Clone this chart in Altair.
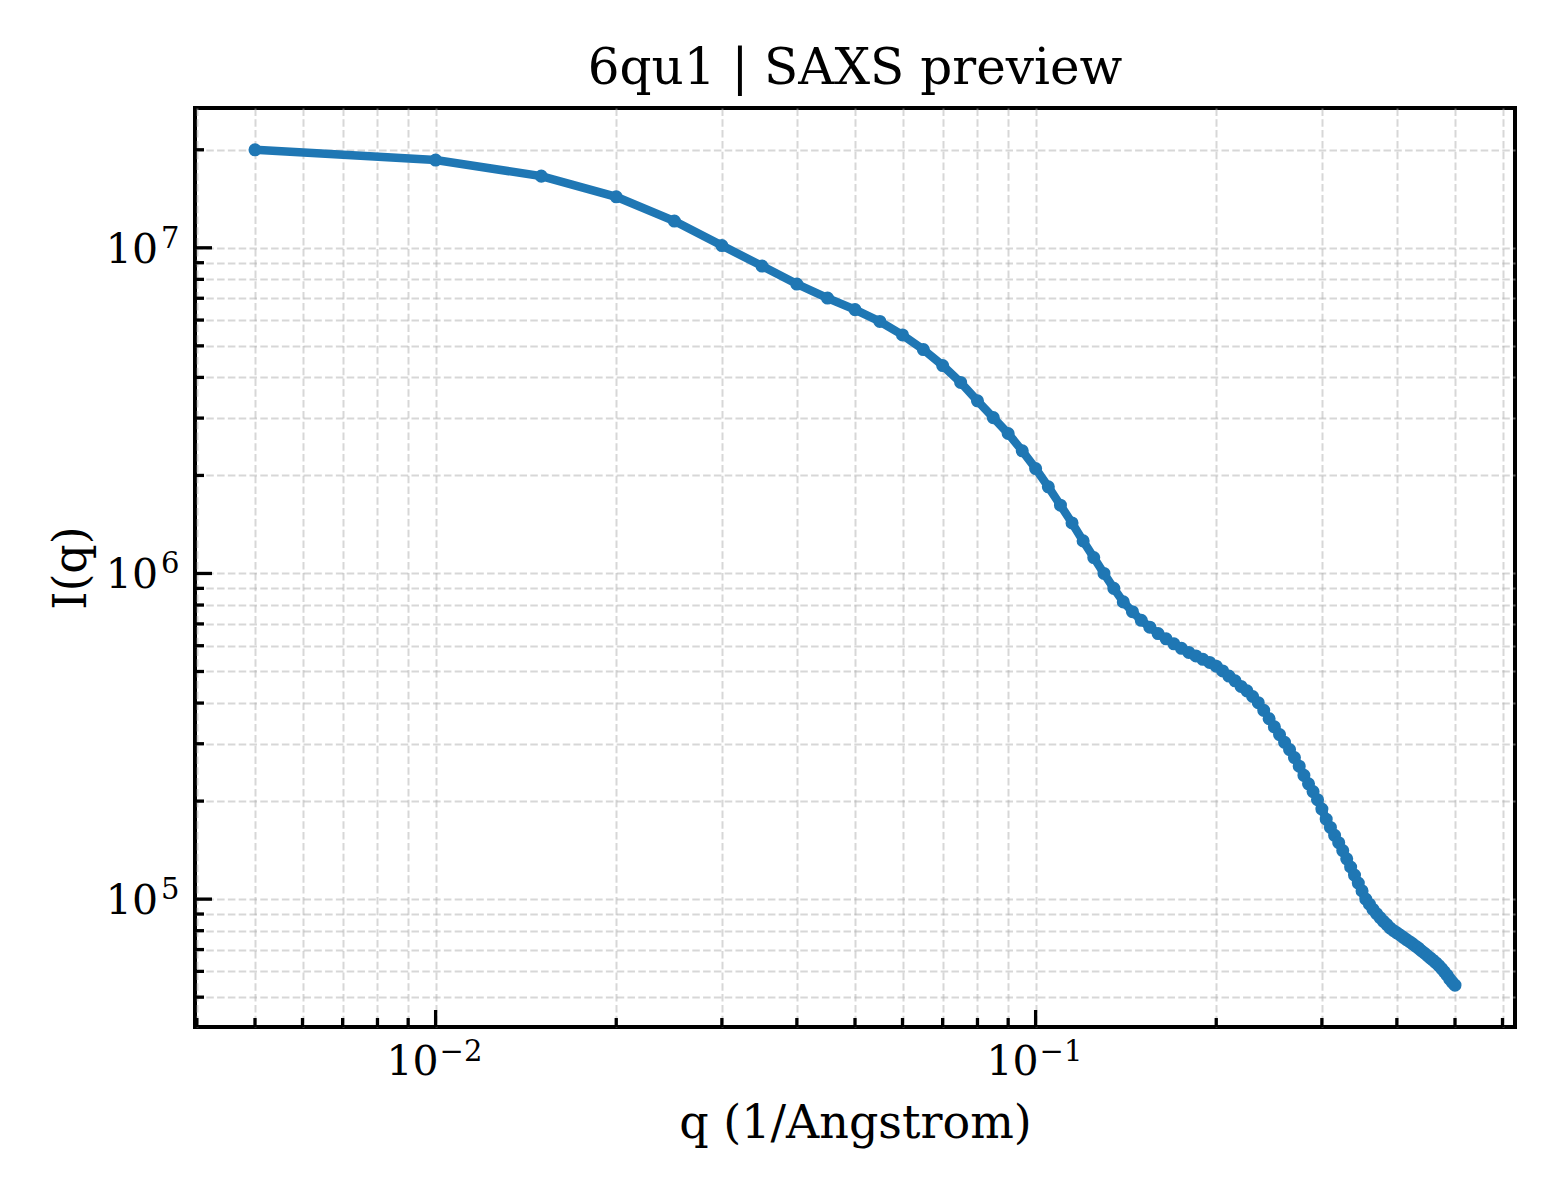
import altair as alt
import pandas as pd
import numpy as np

# ---- data ----
q = [0.005, 0.010, 0.015, 0.020, 0.025, 0.030, 0.035, 0.040, 0.045, 0.050,
     0.055, 0.060, 0.065, 0.070, 0.075, 0.080, 0.085, 0.090, 0.095, 0.100,
     0.105, 0.110, 0.115, 0.120, 0.125, 0.130, 0.135, 0.140, 0.145, 0.150,
     0.155, 0.160, 0.165, 0.170, 0.175, 0.180, 0.185, 0.190, 0.195, 0.200,
     0.205, 0.210, 0.215, 0.220, 0.225, 0.230, 0.235, 0.240, 0.245, 0.250,
     0.255, 0.260, 0.265, 0.270, 0.275, 0.280, 0.285, 0.290, 0.295, 0.300,
     0.305, 0.310, 0.315, 0.320, 0.325, 0.330, 0.335, 0.340, 0.345, 0.350,
     0.355, 0.360, 0.365, 0.370, 0.375, 0.380, 0.385, 0.390, 0.395, 0.400,
     0.405, 0.410, 0.415, 0.420, 0.425, 0.430, 0.435, 0.440, 0.445, 0.450,
     0.455, 0.460, 0.465, 0.470, 0.475, 0.480, 0.485, 0.490, 0.495, 0.500]

intensity = [2.00e7, 1.86e7, 1.66e7, 1.434e7, 1.208e7, 1.016e7, 8.79e6, 7.74e6, 7.01e6, 6.46e6,
             5.94e6, 5.40e6, 4.87e6, 4.35e6, 3.86e6, 3.39e6, 3.01e6, 2.69e6, 2.38e6, 2.10e6,
             1.845e6, 1.62e6, 1.429e6, 1.259e6, 1.119e6, 1.00e6, 9.0e5, 8.18e5, 7.63e5, 7.18e5,
             6.84e5, 6.54e5, 6.30e5, 6.08e5, 5.89e5, 5.72e5, 5.58e5, 5.45e5, 5.33e5, 5.19e5,
             5.02e5, 4.84e5, 4.68e5, 4.50e5, 4.36e5, 4.19e5, 4.01e5, 3.80e5, 3.58e5, 3.38e5,
             3.20e5, 3.03e5, 2.88e5, 2.72e5, 2.56e5, 2.40e5, 2.26e5, 2.14e5, 2.02e5, 1.89e5,
             1.76e5, 1.66e5, 1.57e5, 1.49e5, 1.41e5, 1.33e5, 1.255e5, 1.185e5, 1.12e5, 1.06e5,
             1.00e5, 9.65e4, 9.30e4, 9.02e4, 8.78e4, 8.55e4, 8.35e4, 8.15e4, 8.00e4, 7.88e4,
             7.76e4, 7.63e4, 7.51e4, 7.40e4, 7.29e4, 7.17e4, 7.06e4, 6.93e4, 6.82e4, 6.70e4,
             6.59e4, 6.48e4, 6.37e4, 6.25e4, 6.12e4, 5.98e4, 5.84e4, 5.68e4, 5.55e4, 5.44e4]

chart_title = "6qu1 | SAXS preview"
x_title = "q (1/Angstrom)"
y_title = "I(q)"

# tick labels: base "10" and exponent
x_major = [0.01, 0.1]
x_major_exp = ["\u22122", "\u22121"]
x_minor = [0.004, 0.005, 0.006, 0.007, 0.008, 0.009,
           0.02, 0.03, 0.04, 0.05, 0.06, 0.07, 0.08, 0.09,
           0.2, 0.3, 0.4, 0.5, 0.6]

y_major = [1e5, 1e6, 1e7]
y_major_exp = ["5", "6", "7"]
y_minor = [5e4, 6e4, 7e4, 8e4, 9e4,
           2e5, 3e5, 4e5, 5e5, 6e5, 7e5, 8e5, 9e5,
           2e6, 3e6, 4e6, 5e6, 6e6, 7e6, 8e6, 9e6,
           2e7]

# ---- layout / style ----
W, H = 1320, 919
FONT = "DejaVu Serif"
BLUE = "#1f77b4"
MAJOR_LEN, MINOR_LEN = 17, 9
BASE_FS, EXP_FS = 41, 29

df = pd.DataFrame({"q": q, "I": intensity})

def log_domain(vals, frac=0.05):
    lv = np.log10(np.asarray(vals, dtype=float))
    m = frac * (lv.max() - lv.min())
    return [float(10 ** (lv.min() - m)), float(10 ** (lv.max() + m))]

xs = alt.Scale(type="log", domain=log_domain(q), nice=False, zero=False)
ys = alt.Scale(type="log", domain=log_domain(intensity), nice=False, zero=False)

grid_common = dict(
    grid=True, gridColor="#b0b0b0", gridOpacity=0.5, gridWidth=2,
    gridDash=[7.5, 3.3], ticks=False, tickSize=0, domain=False, labels=False,
    titleFont=FONT, titleFontSize=46, titleFontWeight="normal", titleColor="black",
)

x_axis = alt.Axis(values=sorted(x_major + x_minor), title=x_title, titlePadding=74, **grid_common)
y_axis = alt.Axis(values=sorted(y_major + y_minor), title=y_title, titlePadding=100, **grid_common)

line = alt.Chart(df).mark_line(color=BLUE, strokeWidth=8.5).encode(
    x=alt.X("q:Q", scale=xs, axis=x_axis),
    y=alt.Y("I:Q", scale=ys, axis=y_axis),
)
points = alt.Chart(df).mark_circle(color=BLUE, size=170, opacity=1).encode(
    x=alt.X("q:Q", scale=xs),
    y=alt.Y("I:Q", scale=ys),
)

def y_ticks(vals, length):
    return alt.Chart(pd.DataFrame({"I": vals})).mark_rule(
        color="black", strokeWidth=3.3, clip=True
    ).encode(y=alt.Y("I:Q", scale=ys), x=alt.value(0), x2=alt.value(length))

def x_ticks(vals, length):
    return alt.Chart(pd.DataFrame({"q": vals})).mark_rule(
        color="black", strokeWidth=3.3, clip=True
    ).encode(x=alt.X("q:Q", scale=xs), y=alt.value(H), y2=alt.value(H - length))

ylab_df = pd.DataFrame({"I": y_major, "base": ["10"] * len(y_major), "exp": y_major_exp})
xlab_df = pd.DataFrame({"q": x_major, "base": ["10"] * len(x_major), "exp": x_major_exp})

y_base = alt.Chart(ylab_df).mark_text(
    font=FONT, fontSize=BASE_FS, align="right", baseline="alphabetic", dy=15, color="black"
).encode(y=alt.Y("I:Q", scale=ys), x=alt.value(-37), text="base:N")
y_exp = alt.Chart(ylab_df).mark_text(
    font=FONT, fontSize=EXP_FS, align="left", baseline="alphabetic", dy=0, color="black"
).encode(y=alt.Y("I:Q", scale=ys), x=alt.value(-34), text="exp:N")

x_base = alt.Chart(xlab_df).mark_text(
    font=FONT, fontSize=BASE_FS, align="right", baseline="alphabetic", dx=3, color="black"
).encode(x=alt.X("q:Q", scale=xs), y=alt.value(H + 48), text="base:N")
x_exp = alt.Chart(xlab_df).mark_text(
    font=FONT, fontSize=EXP_FS, align="left", baseline="alphabetic", dx=4, color="black"
).encode(x=alt.X("q:Q", scale=xs), y=alt.value(H + 34), text="exp:N")

chart = alt.layer(
    line, points,
    y_ticks(y_major, MAJOR_LEN), y_ticks(y_minor, MINOR_LEN),
    x_ticks(x_major, MAJOR_LEN), x_ticks(x_minor, MINOR_LEN),
    y_base, y_exp, x_base, x_exp,
).properties(
    width=W, height=H,
    title=alt.TitleParams(text=chart_title, font=FONT, fontSize=50, fontWeight="normal",
                          color="black", anchor="middle", offset=14),
    padding={"left": 187, "top": 100, "right": 37, "bottom": 165},
    autosize=alt.AutoSizeParams(type="none"),
    background="white",
).configure_view(
    stroke="black", strokeWidth=4
)

chart.save("out.html", embed_options={"renderer": "svg", "actions": False})
